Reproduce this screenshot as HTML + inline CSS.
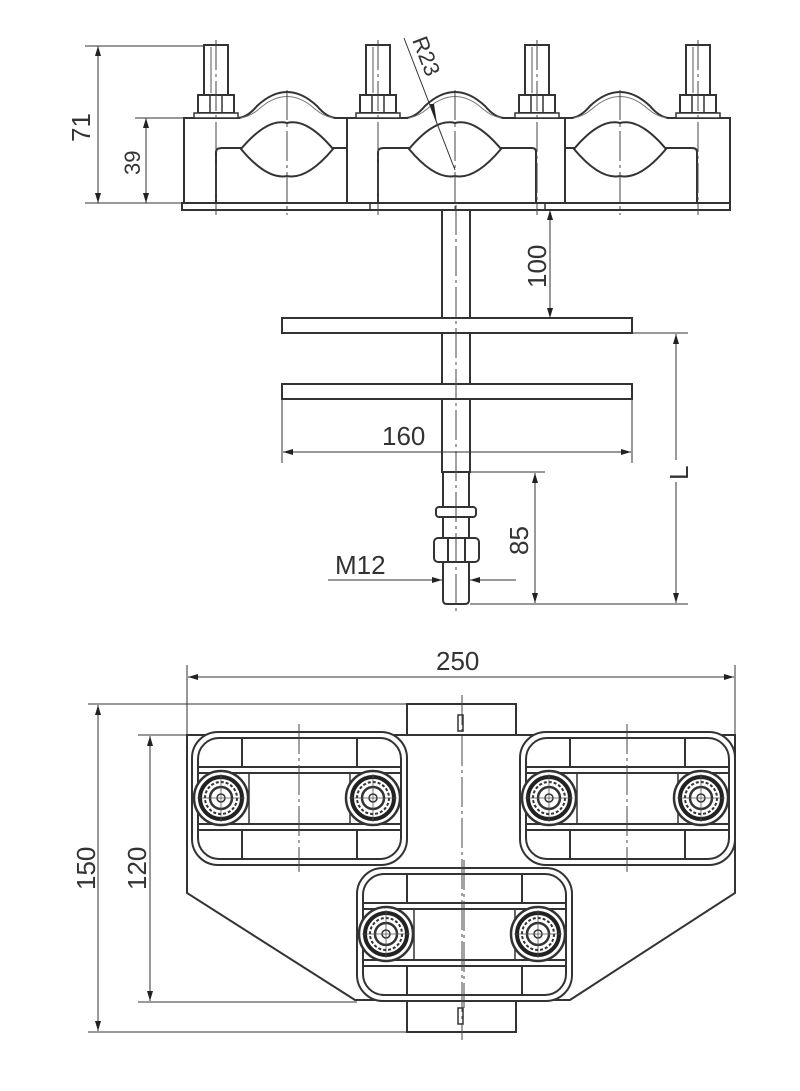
<!DOCTYPE html>
<html><head><meta charset="utf-8"><style>
html,body{margin:0;padding:0;background:#fff;}
svg{display:block}
text{font-family:"Liberation Sans",sans-serif;fill:#333}
</style></head><body>
<svg width="800" height="1091" viewBox="0 0 800 1091" xmlns="http://www.w3.org/2000/svg">
<defs>
<marker id="a" viewBox="0 0 10 6" refX="10" refY="3" markerWidth="10" markerHeight="6" orient="auto-start-reverse" markerUnits="userSpaceOnUse"><path d="M0,0 L10,3 L0,6 z" fill="#222"/></marker>
<g id="bolt">
<rect x="-12" y="0" width="24" height="50" fill="#fff" stroke="#333" stroke-width="2"/>
<line x1="-5" y1="2" x2="-5" y2="48" stroke="#555" stroke-width="1"/>
<rect x="-18" y="50" width="36" height="18" fill="#fff" stroke="#333" stroke-width="2"/>
<line x1="-6" y1="50" x2="-6" y2="68" stroke="#333" stroke-width="1.5"/>
<line x1="6" y1="50" x2="6" y2="68" stroke="#333" stroke-width="1.5"/>
<rect x="-22" y="68" width="44" height="5" fill="#fff" stroke="#333" stroke-width="1.5"/>
</g>
<g id="hump">
<path d="M-50,22 Q-40,22 -30,10 Q0,-18 30,10 Q40,22 50,22" fill="none" stroke="#333" stroke-width="2"/>
<path d="M-46,22 Q-36,20 -28,13 Q0,-12 28,13 Q36,20 46,22" fill="none" stroke="#777" stroke-width="1"/>
<path d="M-46,53 Q-20,22 0,27 Q20,22 46,53 Q20,84 0,80 Q-20,84 -46,53 z" fill="#fff" stroke="#333" stroke-width="2"/>
</g>
<g id="nut">
<circle r="27" fill="#fff" stroke="#333" stroke-width="2.5"/>
<circle r="21" fill="none" stroke="#222" stroke-width="4"/>
<circle r="16" fill="none" stroke="#333" stroke-width="2" stroke-dasharray="3 2"/>
<circle r="11" fill="none" stroke="#333" stroke-width="2.5"/>
<circle r="4" fill="none" stroke="#333" stroke-width="1.5"/>
<line x1="-24" y1="0" x2="24" y2="0" stroke="#555" stroke-width="0.8"/>
<line x1="0" y1="-24" x2="0" y2="24" stroke="#555" stroke-width="0.8"/>
</g>
<g id="clamp">
<rect x="0" y="0" width="215" height="133" rx="26" fill="#fff" stroke="#333" stroke-width="2"/>
<rect x="6" y="6" width="203" height="121" rx="21" fill="none" stroke="#333" stroke-width="2"/>
<line x1="50" y1="6" x2="50" y2="35" stroke="#333" stroke-width="2"/>
<line x1="165" y1="6" x2="165" y2="35" stroke="#333" stroke-width="2"/>
<line x1="50" y1="98" x2="50" y2="127" stroke="#333" stroke-width="2"/>
<line x1="165" y1="98" x2="165" y2="127" stroke="#333" stroke-width="2"/>
<line x1="6" y1="35" x2="209" y2="35" stroke="#333" stroke-width="2"/>
<line x1="6" y1="41" x2="209" y2="41" stroke="#333" stroke-width="2"/>
<line x1="6" y1="92" x2="209" y2="92" stroke="#333" stroke-width="2"/>
<line x1="6" y1="98" x2="209" y2="98" stroke="#333" stroke-width="2"/>
<line x1="57" y1="41" x2="57" y2="92" stroke="#333" stroke-width="1.5"/>
<line x1="158" y1="41" x2="158" y2="92" stroke="#333" stroke-width="1.5"/>
<line x1="107" y1="-8" x2="107" y2="140" stroke="#444" stroke-width="1" stroke-dasharray="30 4 3 4"/>
<use href="#nut" x="29" y="66"/>
<use href="#nut" x="181" y="66"/>
</g>
</defs>

<g stroke="#333" fill="none">
<rect x="184" y="118" width="546" height="85" fill="#fff" stroke-width="2"/>
<rect x="182" y="203" width="548" height="7" fill="#fff" stroke-width="2"/>
<line x1="347" y1="118" x2="347" y2="203" stroke-width="2"/>
<line x1="565" y1="118" x2="565" y2="203" stroke-width="2"/>
<line x1="370" y1="203" x2="370" y2="210" stroke-width="1.5"/>
<line x1="545" y1="203" x2="545" y2="210" stroke-width="1.5"/>
<path d="M216,203 V152 Q216,148 222,148 H243" stroke-width="2"/>
<path d="M331,148 H347" stroke-width="2"/>
<path d="M378,203 V152 Q378,148 384,148 H411" stroke-width="2"/>
<path d="M499,148 H532 Q536,148 536,152 V203" stroke-width="2"/>
<path d="M565,148 H576" stroke-width="2"/>
<path d="M664,148 H692 Q697,148 697,152 V203" stroke-width="2"/>
</g>
<rect x="240" y="112" width="94" height="10" fill="#fff"/>
<rect x="408" y="112" width="94" height="10" fill="#fff"/>
<rect x="573" y="112" width="94" height="10" fill="#fff"/>
<use href="#hump" x="287" y="96"/>
<use href="#hump" x="455" y="96"/>
<use href="#hump" x="620" y="96"/>
<use href="#bolt" x="216" y="45"/>
<use href="#bolt" x="378" y="45"/>
<use href="#bolt" x="537" y="45"/>
<use href="#bolt" x="698" y="45"/>
<g stroke="#444" stroke-width="1" stroke-dasharray="30 4 3 4">
<line x1="216" y1="40" x2="216" y2="215"/>
<line x1="378" y1="40" x2="378" y2="215"/>
<line x1="537" y1="40" x2="537" y2="215"/>
<line x1="698" y1="40" x2="698" y2="215"/>
<line x1="287" y1="90" x2="287" y2="215"/>
<line x1="455" y1="90" x2="455" y2="215"/>
<line x1="620" y1="90" x2="620" y2="215"/>
</g>
<line x1="404" y1="38" x2="455" y2="170" stroke="#333" stroke-width="1"/>
<path d="M430,104 L437,124 L434,104 z" fill="#222"/>
<text x="0" y="0" font-size="22" transform="translate(412,40) rotate(69)">R23</text>

<g stroke="#333" stroke-width="1">
<line x1="85" y1="46" x2="205" y2="46"/>
<line x1="85" y1="203" x2="185" y2="203"/>
<line x1="135" y1="118" x2="185" y2="118"/>
<line x1="98" y1="46" x2="98" y2="203" marker-start="url(#a)" marker-end="url(#a)"/>
<line x1="146" y1="118" x2="146" y2="203" marker-start="url(#a)" marker-end="url(#a)"/>
</g>
<text font-size="26" transform="translate(90,142) rotate(-90)">71</text>
<text font-size="22" transform="translate(140,175) rotate(-90)">39</text>

<g stroke="#333" fill="#fff" stroke-width="2">
<rect x="442" y="210" width="28" height="262"/>
<path d="M443,472 H469 V600 Q469,604 465,604 H447 Q443,604 443,600 z"/>
<rect x="282" y="318" width="350" height="15"/>
<rect x="282" y="384" width="350" height="15"/>
<rect x="436" y="507" width="40" height="10" rx="3"/>
<rect x="434" y="538" width="45" height="24" rx="4"/>
<line x1="448" y1="538" x2="448" y2="562"/>
<line x1="465" y1="538" x2="465" y2="562"/>
</g>
<line x1="456" y1="205" x2="456" y2="612" stroke="#444" stroke-width="1" stroke-dasharray="30 4 3 4"/>
<g stroke="#333" stroke-width="1">
<line x1="550" y1="210" x2="550" y2="318" marker-start="url(#a)" marker-end="url(#a)"/>
<line x1="282" y1="399" x2="282" y2="463"/>
<line x1="632" y1="399" x2="632" y2="463"/>
<line x1="283" y1="452" x2="631" y2="452" marker-start="url(#a)" marker-end="url(#a)"/>
<line x1="632" y1="333" x2="688" y2="333"/>
<line x1="470" y1="604" x2="688" y2="604"/>
<line x1="676" y1="334" x2="676" y2="460" marker-start="url(#a)"/>
<line x1="676" y1="482" x2="676" y2="603" marker-end="url(#a)"/>
<line x1="470" y1="472" x2="545" y2="472"/>
<line x1="535" y1="473" x2="535" y2="603" marker-start="url(#a)" marker-end="url(#a)"/>
<line x1="328" y1="580" x2="442" y2="580" marker-end="url(#a)"/>
<line x1="516" y1="580" x2="470" y2="580" marker-end="url(#a)"/>
</g>
<text font-size="26" transform="translate(546,288) rotate(-90)">100</text>
<text font-size="26" x="382" y="445">160</text>
<text font-size="26" transform="translate(688,480) rotate(-90)">L</text>
<text font-size="26" transform="translate(528,555) rotate(-90)">85</text>
<text font-size="26" x="335" y="574">M12</text>

<g stroke="#333" fill="#fff" stroke-width="2">
<rect x="407" y="704" width="109" height="33"/>
<rect x="407" y="1000" width="109" height="32"/>
<path d="M187,735 H735 V893 L570,1000 H355 L187,893 z"/>
<rect x="458" y="715" width="5" height="16" stroke-width="1.5"/>
<rect x="458" y="1008" width="5" height="16" stroke-width="1.5"/>
</g>
<use href="#clamp" x="192" y="732"/>
<use href="#clamp" x="520" y="732"/>
<use href="#clamp" x="357" y="868"/>
<line x1="462" y1="695" x2="462" y2="1040" stroke="#444" stroke-width="1" stroke-dasharray="30 4 3 4"/>
<g stroke="#333" stroke-width="1">
<line x1="187" y1="665" x2="187" y2="735"/>
<line x1="735" y1="665" x2="735" y2="735"/>
<line x1="188" y1="677" x2="734" y2="677" marker-start="url(#a)" marker-end="url(#a)"/>
<line x1="88" y1="704" x2="407" y2="704"/>
<line x1="88" y1="1032" x2="407" y2="1032"/>
<line x1="138" y1="735" x2="190" y2="735"/>
<line x1="138" y1="1002" x2="357" y2="1002"/>
<line x1="98" y1="705" x2="98" y2="1031" marker-start="url(#a)" marker-end="url(#a)"/>
<line x1="150" y1="736" x2="150" y2="1001" marker-start="url(#a)" marker-end="url(#a)"/>
</g>
<text font-size="26" x="436" y="670">250</text>
<text font-size="26" transform="translate(95,890) rotate(-90)">150</text>
<text font-size="26" transform="translate(146,890) rotate(-90)">120</text>
</svg>
</body></html>
